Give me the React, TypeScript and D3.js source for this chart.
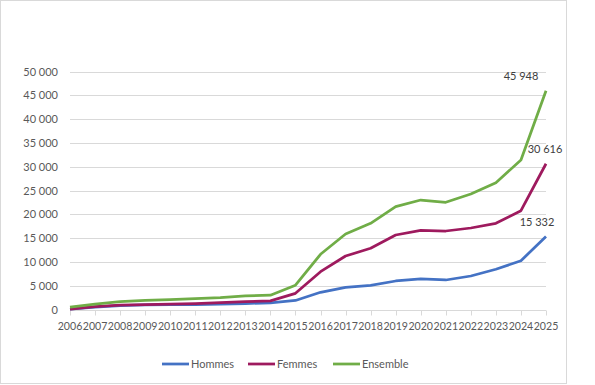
import { useEffect, useRef } from "react";
import * as d3 from "d3";

const years = [
  "2006", "2007", "2008", "2009", "2010", "2011", "2012", "2013", "2014", "2015",
  "2016", "2017", "2018", "2019", "2020", "2021", "2022", "2023", "2024", "2025",
];
const hommes = [100, 500, 800, 950, 1000, 1050, 1150, 1250, 1400, 1900, 3610, 4660, 5080, 5990, 6410, 6200, 7040, 8450, 10250, 15332];
const femmes = [100, 600, 900, 1050, 1150, 1250, 1450, 1650, 1800, 3400, 7940, 11240, 12860, 15650, 16640, 16490, 17120, 18110, 20760, 30616];
const ensemble = [500, 1150, 1650, 1900, 2100, 2300, 2500, 2850, 3000, 5100, 11600, 15860, 18110, 21600, 23000, 22520, 24260, 26640, 31400, 45948];
const yTicks = [0, 5000, 10000, 15000, 20000, 25000, 30000, 35000, 40000, 45000, 50000];

const series = [
  { name: "Hommes", values: hommes, color: "#4472C4" },
  { name: "Femmes", values: femmes, color: "#9E1A5E" },
  { name: "Ensemble", values: ensemble, color: "#70AD47" },
];

const W = 595;
const H = 385;
const FONT = "Lato, 'Open Sans', sans-serif";

// "45 948" style, space as thousands separator
const fmt = (v: number) => d3.format(",")(v).replace(/,/g, " ");

export default function App() {
  const svgRef = useRef<SVGSVGElement>(null);

  useEffect(() => {
    const svg = d3.select(svgRef.current);
    svg.selectAll("*").remove();

    const x = d3.scalePoint<string>().domain(years).range([70, 546]);
    const y = d3.scaleLinear().domain([0, 50000]).range([309.5, 71.5]);

    svg.append("rect").attr("width", W).attr("height", H).attr("fill", "#fff");

    // chart border
    svg
      .append("rect")
      .attr("x", 0.5)
      .attr("y", 0.5)
      .attr("width", 566)
      .attr("height", 383)
      .attr("fill", "none")
      .attr("stroke", "#d9d9d9");

    // gridlines
    svg
      .append("g")
      .selectAll("line")
      .data(yTicks.filter((t) => t > 0))
      .join("line")
      .attr("x1", 70)
      .attr("x2", 546)
      .attr("y1", (d) => Math.round(y(d)) + 0.5)
      .attr("y2", (d) => Math.round(y(d)) + 0.5)
      .attr("stroke", "#d9d9d9");

    // y labels
    svg
      .append("g")
      .selectAll("text")
      .data(yTicks)
      .join("text")
      .attr("x", 58)
      .attr("y", (d) => y(d) + 4)
      .attr("text-anchor", "end")
      .attr("font-family", FONT)
      .attr("font-size", 11)
      .attr("fill", "#595959")
      .text((d) => fmt(d));

    // x axis
    const xAxis = svg.append("g").attr("transform", `translate(0, ${Math.round(y(0)) + 0.5})`);
    xAxis.append("line").attr("x1", 70).attr("x2", 546).attr("stroke", "#d9d9d9");
    xAxis
      .selectAll("line.tick")
      .data(years)
      .join("line")
      .attr("class", "tick")
      .attr("x1", (d) => Math.round(x(d)!) + 0.5)
      .attr("x2", (d) => Math.round(x(d)!) + 0.5)
      .attr("y1", 0)
      .attr("y2", 5)
      .attr("stroke", "#d9d9d9");
    xAxis
      .selectAll("text")
      .data(years)
      .join("text")
      .attr("x", (d) => x(d)!)
      .attr("y", 19)
      .attr("text-anchor", "middle")
      .attr("font-family", FONT)
      .attr("font-size", 10.6)
      .attr("fill", "#595959")
      .text((d) => d);

    const line = d3
      .line<number>()
      .x((_, i) => x(years[i])!)
      .y((d) => y(d));

    series.forEach((s) => {
      svg
        .append("path")
        .datum(s.values)
        .attr("d", line)
        .attr("fill", "none")
        .attr("stroke", s.color)
        .attr("stroke-width", 2.75)
        .attr("stroke-linejoin", "round");
    });

    // end labels
    const last = years.length - 1;
    const labelOffsets = [
      { dx: -9, dy: -11 },
      { dx: -1, dy: -11 },
      { dx: -25, dy: -11 },
    ];
    series.forEach((s, i) => {
      const v = s.values[last];
      svg
        .append("text")
        .attr("x", x(years[last])! + labelOffsets[i].dx)
        .attr("y", y(v) + labelOffsets[i].dy)
        .attr("text-anchor", "middle")
        .attr("font-family", FONT)
        .attr("font-size", 11)
        .attr("fill", "#404040")
        .text(fmt(v));
    });

    // legend
    const legendItems = [
      { x: 162, ...series[0] },
      { x: 248, ...series[1] },
      { x: 333, ...series[2] },
    ];
    const lg = svg.append("g").attr("transform", "translate(0, 364)");
    legendItems.forEach((it) => {
      lg.append("line")
        .attr("x1", it.x)
        .attr("x2", it.x + 27)
        .attr("stroke", it.color)
        .attr("stroke-width", 2.75);
      lg.append("text")
        .attr("x", it.x + 29)
        .attr("y", 4)
        .attr("font-family", FONT)
        .attr("font-size", 11)
        .attr("fill", "#595959")
        .text(it.name);
    });
  }, []);

  return (
    <svg
      ref={svgRef}
      width={W}
      height={H}
      style={{ position: "fixed", top: 0, left: 0, display: "block" }}
    />
  );
}
